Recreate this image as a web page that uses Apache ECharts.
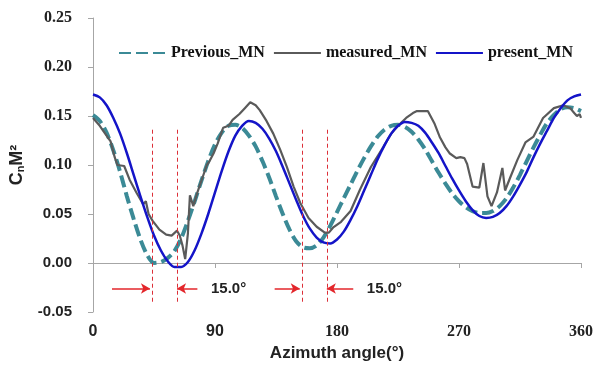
<!DOCTYPE html>
<html>
<head>
<meta charset="utf-8">
<script src="https://cdn.jsdelivr.net/npm/echarts@6/dist/echarts.min.js"></script>
<style>
  html, body { margin: 0; padding: 0; background: #fff; }
  #chart { width: 602px; height: 367px; }
</style>
</head>
<body>
<div id="chart"></div>
<script>
// Azimuth angles (degrees) for the two model curves
const modelAngles = [0,5,10,15,20,25,30,35,40,45,50,55,60,65,70,75,80,85,90,95,100,105,110,115,120,125,130,135,140,145,150,155,160,165,170,175,180,185,190,195,200,205,210,215,220,225,230,235,240,245,250,255,260,265,270,275,280,285,290,295,300,305,310,315,320,325,330,335,340,345,350,355,360];

// Previous_MN model
const previousValues = [0.151,0.145,0.133,0.115,0.093,0.068,0.045,0.024,0.008,0.000,0.001,0.005,0.012,0.025,0.043,0.063,0.084,0.104,0.121,0.133,0.140,0.141,0.138,0.130,0.119,0.104,0.087,0.068,0.050,0.034,0.022,0.016,0.015,0.018,0.026,0.038,0.052,0.066,0.080,0.094,0.107,0.119,0.129,0.136,0.140,0.141,0.139,0.134,0.126,0.116,0.104,0.092,0.081,0.071,0.063,0.057,0.053,0.051,0.051,0.053,0.058,0.066,0.077,0.090,0.104,0.118,0.131,0.143,0.151,0.157,0.159,0.158,0.155];

// present_MN model
const presentValues = [0.172,0.169,0.161,0.148,0.132,0.112,0.090,0.068,0.047,0.028,0.013,0.002,-0.004,-0.004,0.001,0.013,0.030,0.050,0.072,0.094,0.114,0.130,0.140,0.145,0.143,0.137,0.127,0.114,0.098,0.081,0.064,0.048,0.035,0.026,0.021,0.020,0.024,0.032,0.044,0.058,0.074,0.090,0.106,0.120,0.132,0.140,0.144,0.143,0.140,0.133,0.123,0.112,0.099,0.086,0.074,0.063,0.054,0.048,0.046,0.047,0.051,0.058,0.068,0.080,0.093,0.108,0.122,0.135,0.148,0.158,0.166,0.170,0.172];

// measured_MN (irregular sampling)
const measuredAngles = [0,5,10,13,16,18,23,27,32,37,39,41,44,49,54,58,62,64,66,68,70,71.5,74,77,81,84,86,89,92,96,100,103,108,112,116,120,123,128,133,138,143,148,153,159,165,171,174,177,183,190,197,205,214,220,225,231,236,239,247,252,256,260,263,268,271,274,276,280,285,288,291,294,298,302,304,308,313,319,325,332,340,347,352,355,357,359,360];
const measuredValues = [0.148,0.140,0.130,0.124,0.108,0.100,0.099,0.085,0.072,0.060,0.063,0.050,0.043,0.034,0.029,0.028,0.033,0.028,0.018,0.004,0.030,0.069,0.058,0.072,0.088,0.100,0.104,0.112,0.122,0.138,0.140,0.146,0.152,0.158,0.164,0.161,0.156,0.145,0.132,0.116,0.098,0.078,0.061,0.046,0.037,0.031,0.031,0.036,0.042,0.053,0.075,0.098,0.118,0.132,0.140,0.148,0.153,0.155,0.155,0.142,0.128,0.118,0.112,0.107,0.108,0.107,0.101,0.078,0.077,0.102,0.068,0.058,0.072,0.097,0.074,0.088,0.105,0.123,0.129,0.148,0.158,0.161,0.158,0.153,0.150,0.152,0.148];

// Phase-shift markers: vertical guides and arrow spans
const shiftGuides = [44, 62, 154.5, 172.5];
const guideTop = 0.136, guideBottom = -0.040;
const arrowLevel = -0.026;
const arrowSpans = [[14, 42], [77, 62], [134, 152.5], [192, 172.5]];
const shiftLabels = [[100, '15.0°'], [215, '15.0°']];

const pair = (xs, ys) => xs.map((x, i) => [x, ys[i]]);

const serif = 'Liberation Serif';
const sans = 'Liberation Sans';
const red = '#e3262b';

const markLines = [];
shiftGuides.forEach(a => markLines.push([
  { coord: [a, guideTop], lineStyle: { color: '#dc2f38', width: 1, type: [4, 3] }, symbol: 'none' },
  { coord: [a, guideBottom], symbol: 'none' }
]));
arrowSpans.forEach(s => markLines.push([
  { coord: [s[0], arrowLevel], lineStyle: { color: red, width: 1.5, type: 'solid' }, symbol: 'none' },
  { coord: [s[1], arrowLevel], symbol: 'arrow', symbolSize: [8, 9] }
]));

const chart = echarts.init(document.getElementById('chart'), null, { renderer: 'canvas' });
chart.setOption({
  animation: false,
  backgroundColor: '#ffffff',
  grid: { left: 93, right: 21, top: 18, bottom: 55 },
  legend: {
    left: 113, top: 40,
    itemWidth: 47, itemHeight: 14, itemGap: 8,
    data: ['Previous_MN', 'measured_MN', 'present_MN'],
    itemStyle: { color: 'rgba(0,0,0,0)', borderWidth: 0, opacity: 0 },
    textStyle: { fontFamily: serif, fontWeight: 'bold', fontSize: 16, color: '#111' }
  },
  xAxis: {
    type: 'value', min: 0, max: 360, interval: 90,
    name: 'Azimuth angle(°)', nameLocation: 'middle', nameGap: 28,
    nameTextStyle: { fontFamily: sans, fontWeight: 'bold', fontSize: 17, color: '#222' },
    axisLine: { lineStyle: { color: '#a6a6a6', width: 1 } },
    axisTick: { show: true, length: 5, lineStyle: { color: '#a6a6a6' } },
    splitLine: { show: false },
    axisLabel: {
      margin: 12,
      formatter: v => (v < 180 ? '{s|' + v + '}' : '{r|' + v + '}'),
      rich: {
        s: { fontFamily: sans, fontWeight: 'bold', fontSize: 16, color: '#222' },
        r: { fontFamily: serif, fontWeight: 'bold', fontSize: 16, color: '#222' }
      }
    }
  },
  yAxis: {
    type: 'value', min: -0.05, max: 0.25, interval: 0.05,
    name: '{a|C}{b|n}{a|M²}', nameLocation: 'middle', nameGap: 56, nameRotate: 90,
    nameTextStyle: {
      rich: {
        a: { fontFamily: sans, fontWeight: 'bold', fontSize: 18, color: '#222' },
        b: { fontFamily: sans, fontWeight: 'bold', fontSize: 11, color: '#222', verticalAlign: 'bottom', padding: [8, 0, 0, 0] }
      }
    },
    axisLine: { show: true, lineStyle: { color: '#a6a6a6', width: 1 } },
    axisTick: { show: true, length: 5, lineStyle: { color: '#a6a6a6' } },
    splitLine: { show: false },
    axisLabel: {
      margin: 21,
      formatter: v => {
        const t = (Math.abs(v) < 1e-9 ? 0 : v).toFixed(2);
        return v > 0.075 ? '{r|' + t + '}' : '{s|' + t + '}';
      },
      rich: {
        s: { fontFamily: sans, fontWeight: 'bold', fontSize: 15, color: '#222' },
        r: { fontFamily: serif, fontWeight: 'bold', fontSize: 16, color: '#222' }
      }
    }
  },
  series: [
    {
      name: 'Previous_MN', type: 'line', symbol: 'none', smooth: 0.3,
      data: pair(modelAngles, previousValues),
      itemStyle: { color: '#3b8a96' },
      lineStyle: { color: '#3b8a96', width: 4, type: [12, 5] },
      z: 2
    },
    {
      name: 'measured_MN', type: 'line', symbol: 'none', smooth: false,
      data: pair(measuredAngles, measuredValues),
      itemStyle: { color: '#5a5a5a' },
      lineStyle: { color: '#5a5a5a', width: 2.2 },
      z: 3
    },
    {
      name: 'present_MN', type: 'line', symbol: 'none', smooth: 0.3,
      data: pair(modelAngles, presentValues),
      itemStyle: { color: '#1414c8' },
      lineStyle: { color: '#1414c8', width: 2.5 },
      z: 4
    },
    {
      name: 'shift', type: 'line', data: [], silent: true,
      markLine: {
        silent: true, animation: false,
        label: { show: false },
        data: markLines
      },
      markPoint: {
        silent: true, animation: false,
        symbol: 'circle', symbolSize: 0,
        label: {
          show: true, position: 'inside',
          fontFamily: sans, fontWeight: 'bold', fontSize: 15, color: '#222',
          formatter: p => p.name
        },
        data: shiftLabels.map(l => ({ name: l[1], coord: [l[0], arrowLevel] }))
      }
    }
  ]
});
</script>
</body>
</html>
